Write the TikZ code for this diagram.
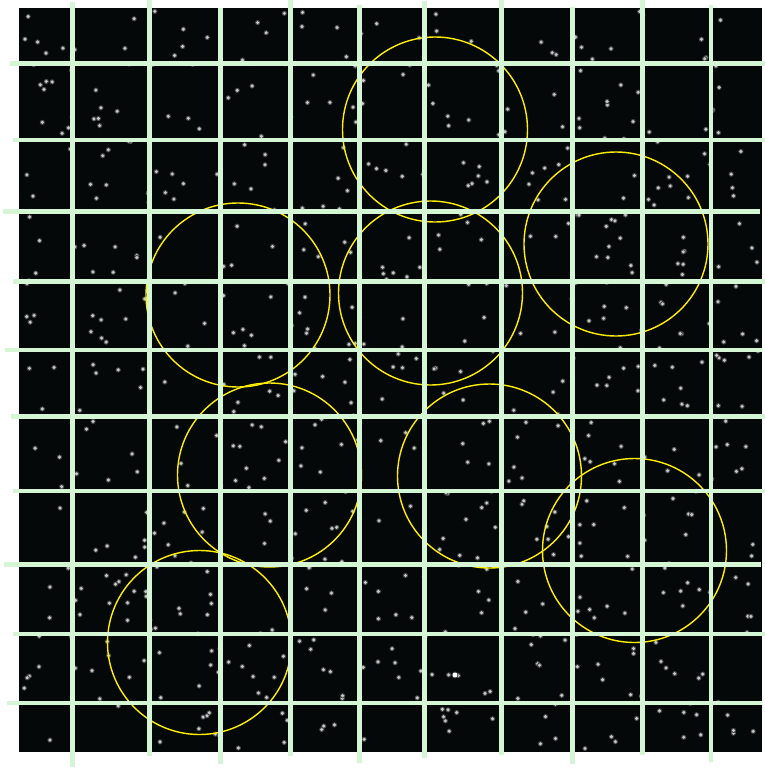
\documentclass[tikz,border=0pt]{standalone}
\definecolor{bgblack}{RGB}{5,8,8}
\definecolor{gridgreen}{RGB}{212,246,212}
\definecolor{ringyellow}{RGB}{255,238,0}
\definecolor{dotgray}{RGB}{200,200,200}
\definecolor{dothalo}{RGB}{70,72,72}
\tikzset{
  gridline/.style={draw=gridgreen, line width=4.8pt, line cap=butt},
  ring/.style={draw=ringyellow, line width=1.4pt},
  stardot/.style={fill=dotgray},
  halo/.style={fill=dothalo}
}
\begin{document}
\begin{tikzpicture}[x=1pt,y=-1pt]
\useasboundingbox (0,0) rectangle (765,769);
\fill[white] (0,0) rectangle (765,769);
\fill[bgblack] (19,8) rectangle (762,752);
% random white dots
\pgfmathsetseed{4711}
\foreach \i in {1,...,680}{
  \pgfmathsetmacro\xx{22+rnd*737}
  \pgfmathsetmacro\yy{11+rnd*738}
  \fill[halo] (\xx,\yy) circle (2.6pt);
  \fill[stardot] (\xx,\yy) circle (1.7pt);
}
\fill[halo] (455,675) circle (3.4pt);
\fill[white] (455,675) circle (2.4pt);
% yellow circles
\draw[ring] (435,129.5) circle (92.5pt);
\draw[ring] (616,244) circle (92pt);
\draw[ring] (238,295) circle (92pt);
\draw[ring] (430.5,293) circle (92pt);
\draw[ring] (269.5,475) circle (92pt);
\draw[ring] (489.5,476) circle (92pt);
\draw[ring] (634.5,550.5) circle (92pt);
\draw[ring] (199.5,642.5) circle (92pt);
% vertical grid lines
\foreach \x/\a/\b in {72.7/2/767, 149.3/0/756, 220.7/8/764, 290.7/0/756, 359.3/5/762.7, 424.8/1/758, 501.7/0/755, 572.7/7/764, 642.7/0/755, 711/5/762}{
  \draw[gridline] (\x,\a) -- (\x,\b);
}
% horizontal grid lines
\foreach \y/\a/\b in {63.3/10/765, 140/12.7/765, 211.5/3.3/760, 281.5/12.7/765, 350/5/762, 416.5/11/765, 491/12.7/765, 564.5/4/761, 634/12.7/765, 703/6.7/762}{
  \draw[gridline] (\a,\y) -- (\b,\y);
}
\end{tikzpicture}
\end{document}
